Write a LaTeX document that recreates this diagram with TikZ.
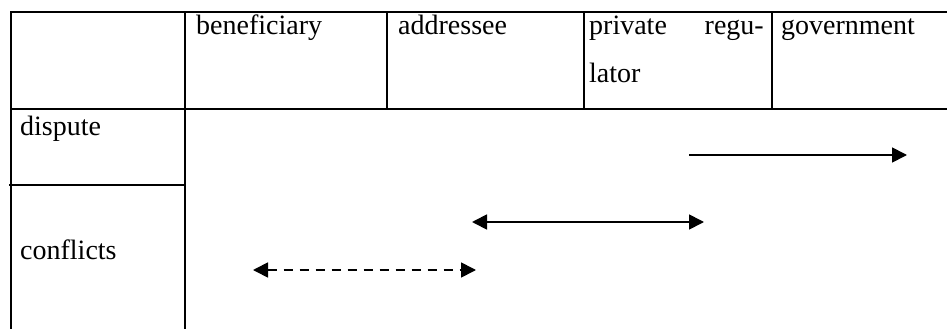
\documentclass[tikz,border=0pt]{standalone}
\usepackage{fontspec}
\setmainfont{Liberation Serif}
\usetikzlibrary{arrows.meta}
\begin{document}
\begin{tikzpicture}[x=1pt,y=-1pt,
  rule/.style={line width=1.8pt,line cap=rect},
  label/.style={inner sep=0pt,font=\fontsize{28}{33}\selectfont},
  tip/.tip={Triangle[length=15pt,width=15pt]},
  onearrow/.style={line width=1.7pt,-tip},
  twoarrow/.style={line width=1.7pt,tip-tip},
  dashedarrow/.style={twoarrow,dash pattern=on 9pt off 7pt},
]
\useasboundingbox (0,0) rectangle (948,329);

% table rules
\draw[rule] (11,12) -- (946,12);
\draw[rule] (11,109) -- (946,109);
\draw[rule] (10,185) -- (185,185);
\draw[rule] (11,12) -- (11,330);
\draw[rule] (185,12) -- (185,330);
\foreach \x in {387,584,772} \draw[rule] (\x,12) -- (\x,109);

% column heads
\node[label,anchor=base west] (benef) at (196,35) {beneficiary};
\node[label,anchor=base west] (addr)  at (398,35) {addressee};
\node[label,anchor=base west] (priv)  at (589,35) {private};
\node[label,anchor=base east] (regu)  at (764,35) {regu-};
\node[label,anchor=base west] (lator) at (589,83) {lator};
\node[label,anchor=base west] (gov)   at (781,35) {government};

% row heads
\node[label,anchor=base west] (disp) at (20,135) {dispute};
\node[label,anchor=base west] (conf) at (20,259) {conflicts};

% arrow end points
\coordinate (d1) at (689,155);
\coordinate (d2) at (907,155);
\coordinate (s1) at (472,222);
\coordinate (s2) at (704,222);
\coordinate (c1) at (253,270);
\coordinate (c2) at (476,270);

\draw[onearrow] (d1) -- (d2);
\draw[twoarrow] (s1) -- (s2);
\draw[dashedarrow] (c1) -- (c2);
\end{tikzpicture}
\end{document}
